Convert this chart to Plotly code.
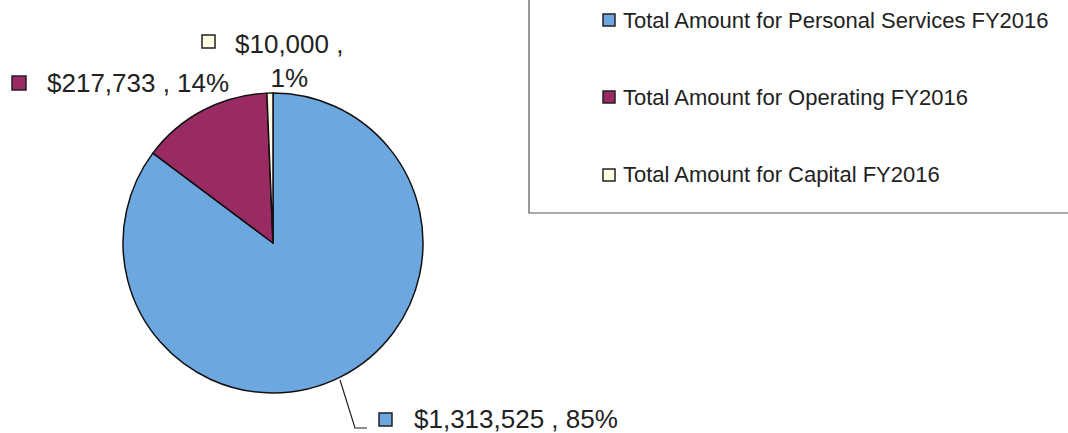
import plotly.graph_objects as go

# ---- data ----
categories = [
    "Total Amount for Personal Services FY2016",
    "Total Amount for Operating FY2016",
    "Total Amount for Capital FY2016",
]
amounts = [1313525, 217733, 10000]
colors = ["#6DA7E0", "#9A2B62", "#FFFFE6"]

W, H = 1068, 433
total = sum(amounts)
pcts = [round(a / total * 100) for a in amounts]
label_text = [f"${a:,} , {p}%" for a, p in zip(amounts, pcts)]

def px(x):
    return x / W

def py(y):
    return 1 - y / H

fig = go.Figure(
    go.Pie(
        labels=categories,
        values=amounts,
        marker=dict(colors=colors, line=dict(color="#111111", width=1.5)),
        sort=False,
        direction="clockwise",
        rotation=0,
        textinfo="none",
        hoverinfo="label+value+percent",
        showlegend=False,
        domain=dict(x=[px(123), px(423)], y=[py(393), py(93)]),
    )
)

FONT = "Liberation Sans, Arial, sans-serif"
TXT = "#222222"
LBL = 26
shapes = []
annotations = []

def key(x0, y0, size, color):
    shapes.append(dict(type="rect", xref="paper", yref="paper",
                       x0=px(x0), x1=px(x0 + size), y0=py(y0 + size), y1=py(y0),
                       fillcolor=color, line=dict(color="#222222", width=1.5)))

# data labels
# Personal services (bottom right with leader line)
shapes.append(dict(type="path", xref="paper", yref="paper",
                   path=f"M {px(340)} {py(380)} L {px(355)} {py(428)} L {px(367)} {py(428)}",
                   line=dict(color="#222222", width=1.2)))
key(379, 413, 13, colors[0])
annotations.append(dict(x=px(412), y=py(419), xref="paper", yref="paper",
                        text=label_text[0], showarrow=False, xanchor="left", yanchor="middle",
                        font=dict(size=LBL, color=TXT, family=FONT)))
# Operating
key(12, 76, 14, colors[1])
annotations.append(dict(x=px(45), y=py(83), xref="paper", yref="paper",
                        text=label_text[1], showarrow=False, xanchor="left", yanchor="middle",
                        font=dict(size=LBL, color=TXT, family=FONT)))
# Capital (two lines)
key(202, 35, 13, colors[2])
cap = f"${amounts[2]:,} ,<br>{pcts[2]}%"
annotations.append(dict(x=px(289), y=py(61), xref="paper", yref="paper",
                        text=cap, showarrow=False, xanchor="center", yanchor="middle",
                        align="center",
                        font=dict(size=LBL, color=TXT, family=FONT)))

# manual legend box
shapes.append(dict(type="rect", xref="paper", yref="paper",
                   x0=px(529), x1=px(1080), y0=py(213), y1=py(-10),
                   fillcolor="rgba(0,0,0,0)", line=dict(color="#555555", width=1.2)))
legend_y = [20, 97, 175]
for cat, col, yy in zip(categories, colors, legend_y):
    key(603, yy - 6, 12, col)
    annotations.append(dict(x=px(621), y=py(yy), xref="paper", yref="paper",
                            text=cat, showarrow=False, xanchor="left", yanchor="middle",
                            font=dict(size=22, color=TXT, family=FONT)))

fig.update_layout(
    width=W, height=H,
    margin=dict(l=0, r=0, t=0, b=0),
    paper_bgcolor="white",
    plot_bgcolor="white",
    shapes=shapes,
    annotations=annotations,
)

fig.write_html(
    "out.html",
    config={"displayModeBar": False},
    post_script="document.body.style.margin='0';document.body.style.overflow='hidden';",
)
